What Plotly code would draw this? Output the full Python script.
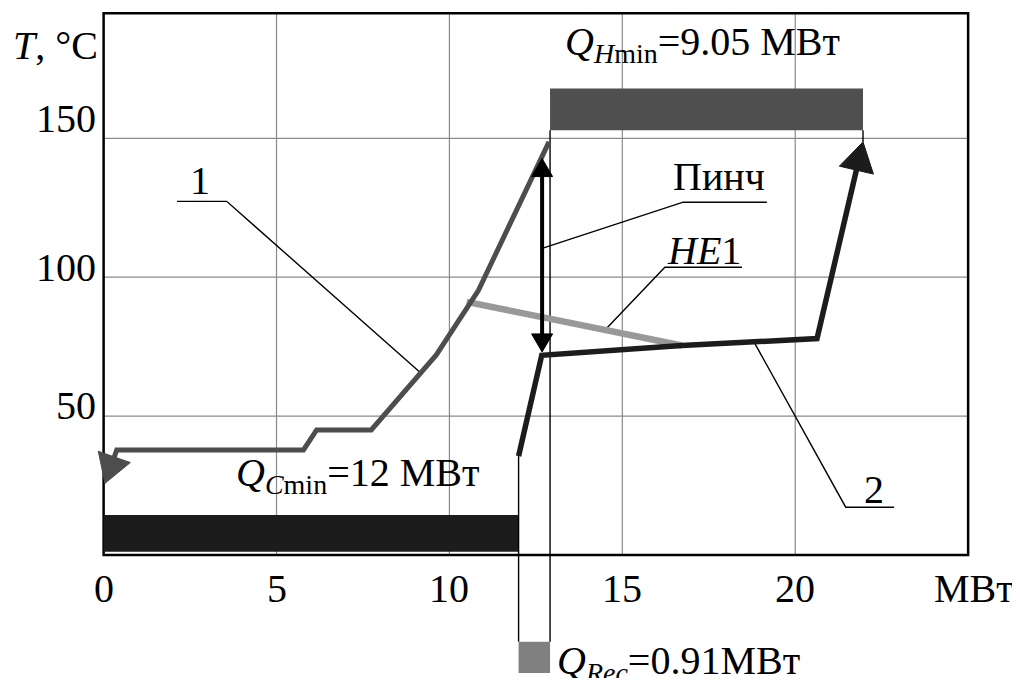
import math
import plotly.graph_objects as go

# ---------------- data ----------------
x_ticks = [0, 5, 10, 15, 20]
x_tick_labels = ["0", "5", "10", "15", "20"]
y_ticks = [50, 100, 150]
y_tick_labels = ["50", "100", "150"]
x_max = 25
y_max = 195

# hot composite curve (1): heat load, MW / temperature, °C
hot_q = [12.88, 10.84, 9.62, 7.74, 6.16, 5.78, 0.38, 0.04]
hot_t = [148.7, 95.3, 72.0, 45.0, 45.0, 37.8, 37.8, 25.8]

# cold composite curve (2)
cold_q = [12.0, 12.67, 16.72, 20.63, 21.96]
cold_t = [35.6, 71.9, 75.4, 77.9, 148.7]

# heat exchanger HE1
he1_q = [10.50, 16.72]
he1_t = [91.1, 75.4]

# pinch arrow
pinch_q = 12.68
pinch_t = [73.1, 142.7]

# utilities, MW
Q_Cmin = 12
Q_Rec = 0.91
Q_Hmin = 9.05

# ---------------- layout (positions / styles) ----------------
W, H = 1012, 670
X_RANGE = [-2.765, 26.50]
Y_RANGE = [-44.28, 196.9]
SX = W / (X_RANGE[1] - X_RANGE[0])   # px per MW
SY = H / (Y_RANGE[1] - Y_RANGE[0])   # px per °C

FONT = "Liberation Serif"
FS = 40
cmin_band = (1.2, 14.4)
hmin_band = (152.9, 167.9)
rec_band = (-42.5, -31.2)

HOT_C = "#4d4d4d"
COLD_C = "#1c1c1c"
HE_C = "#999999"
GRID_C = "#8a8a8a"

fig = go.Figure()


def hbar(start, length, band, color):
    fig.add_trace(go.Bar(orientation="h", base=[start], x=[length],
                         y=[(band[0] + band[1]) / 2], width=[band[1] - band[0]],
                         marker=dict(color=color, line=dict(width=0)),
                         showlegend=False, hoverinfo="skip"))


def line(xs, ys, color="black", width=1.4):
    fig.add_trace(go.Scatter(x=xs, y=ys, mode="lines",
                             line=dict(color=color, width=width),
                             showlegend=False, hoverinfo="skip"))


def head(x0, y0, x1, y1, L, Wd, color):
    """Filled arrow head at (x1, y1) pointing away from (x0, y0); returns base centre."""
    dx, dy = (x1 - x0) * SX, (y1 - y0) * SY
    n = math.hypot(dx, dy)
    ux, uy = dx / n, dy / n
    bx, by = -L * ux, -L * uy
    px, py = -uy * Wd / 2, ux * Wd / 2
    xs = [x1, x1 + (bx + px) / SX, x1 + (bx - px) / SX, x1]
    ys = [y1, y1 + (by + py) / SY, y1 + (by - py) / SY, y1]
    fig.add_trace(go.Scatter(x=xs, y=ys, mode="lines", fill="toself",
                             fillcolor=color, line=dict(color=color, width=1),
                             showlegend=False, hoverinfo="skip"))
    return x1 + (bx + 3 * ux) / SX, y1 + (by + 3 * uy) / SY


# utility bars
hbar(0, Q_Cmin, cmin_band, COLD_C)
hbar(Q_Cmin + Q_Rec, Q_Hmin, hmin_band, "#4f4f4f")
hbar(Q_Cmin, Q_Rec, rec_band, "#808080")

# thin vertical guide lines
pinch_x = Q_Cmin + Q_Rec
q_end = Q_Cmin + Q_Rec + Q_Hmin
line([Q_Cmin, Q_Cmin], [cold_t[0], rec_band[1]])
line([pinch_x, pinch_x], [hmin_band[0], rec_band[1]])
line([q_end, q_end], [hmin_band[0], cold_t[-1]])

# leader lines for labels
line([2.12, 3.56, 9.14], [127.3, 127.3, 65.9])        # 1
line([19.18, 16.76, pinch_q], [127.0, 127.0, 110.4])  # Пинч
line([18.46, 16.23, 14.54], [103.6, 103.6, 81.5])     # HE1
line([22.86, 21.46, 18.83], [17.2, 17.2, 76.2])       # 2

# HE1
line(he1_q, he1_t, HE_C, 6.5)

# hot curve with arrow head
bx, by = head(hot_q[-2], hot_t[-2], hot_q[-1], hot_t[-1], 28, 34, HOT_C)
line(hot_q[:-1] + [bx], hot_t[:-1] + [by], HOT_C, 5)

# cold curve with arrow head
bx, by = head(cold_q[-2], cold_t[-2], cold_q[-1], cold_t[-1], 29, 35, COLD_C)
line(cold_q[:-1] + [bx], cold_t[:-1] + [by], COLD_C, 5.5)

# pinch double arrow
tx, ty = head(pinch_q, pinch_t[0], pinch_q, pinch_t[1], 18, 21, "black")
sx, sy = head(pinch_q, pinch_t[1], pinch_q, pinch_t[0], 18, 21, "black")
line([sx, tx], [sy, ty], "black", 4)

ann = []


def text(x, y, s, xanchor="left", size=FS):
    ann.append(dict(x=x, y=y, xref="x", yref="y", text=s, showarrow=False,
                    xanchor=xanchor, yanchor="middle",
                    font=dict(family=FONT, size=size, color="black")))


# tick labels
for v, s in zip(x_ticks, x_tick_labels):
    text(v, -12.2, s, "center")
for v, s, dy in zip(y_ticks, y_tick_labels, [3.7, 3.4, 7.2]):
    text(-0.16, v + dy, s, "right")
text(-2.68, 183.5, "<i>T</i>, °C")
text(23.95, -12.2, "МВт")

text(13.28, 184.1, "<i>Q</i><sub><i>H</i>min</sub>=9.05 МВт")
text(3.77, 28.8, "<i>Q</i><sub><i>C</i>min</sub>=12 МВт")
text(13.04, -38.9, "<i>Q</i><sub><i>Rec</i></sub>=0.91МВт")
text(16.40, 136.2, "Пинч")
text(16.23, 109.7, "<i>HE</i>1")
text(2.43, 134.7, "1")
text(21.93, 23.7, "2")

shapes = []
for v in x_ticks[1:]:
    shapes.append(dict(type="line", xref="x", yref="y", x0=v, x1=v, y0=0, y1=y_max,
                       line=dict(color=GRID_C, width=1.2), layer="below"))
for v in y_ticks:
    shapes.append(dict(type="line", xref="x", yref="y", x0=0, x1=x_max, y0=v, y1=v,
                       line=dict(color=GRID_C, width=1.2), layer="below"))
shapes.append(dict(type="rect", xref="x", yref="y", x0=0, x1=x_max, y0=0, y1=y_max,
                   line=dict(color="black", width=2.5), layer="below"))

fig.update_layout(
    width=W, height=H, margin=dict(l=0, r=0, t=0, b=0),
    paper_bgcolor="white", plot_bgcolor="white", barmode="overlay",
    xaxis=dict(range=X_RANGE, visible=False, fixedrange=True),
    yaxis=dict(range=Y_RANGE, visible=False, fixedrange=True),
    annotations=ann, shapes=shapes, showlegend=False,
)
fig.write_html("out.html")
